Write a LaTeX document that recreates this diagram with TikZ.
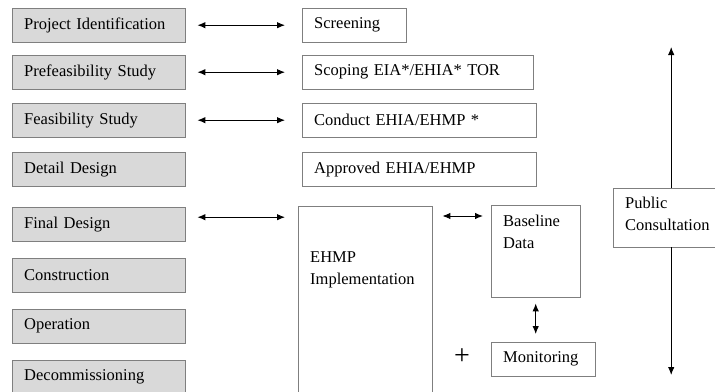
\documentclass[tikz,border=0pt]{standalone}
\usepackage{fontspec}
\setmainfont{Liberation Serif}
\usetikzlibrary{arrows.meta}

\definecolor{stagegray}{HTML}{D9D9D9}
\definecolor{edgegray}{HTML}{7F7F7F}

\begin{document}
\begin{tikzpicture}[x=1pt, y=-1pt,
  every node/.style={font=\fontsize{16.5}{22}\selectfont},
  stage/.style={draw=edgegray, fill=stagegray, anchor=north west, minimum height=34pt,
    inner xsep=12pt, inner ysep=0pt, text width=149pt, align=left},
  note/.style={draw=edgegray, fill=white, anchor=north west, minimum height=34pt,
    inner xsep=12pt, inner ysep=0pt, text width=#1, align=left},
  frame/.style={draw=edgegray, anchor=north west, inner sep=0pt},
  caption/.style={anchor=north west, inner sep=0pt, align=left},
  link/.style={{Latex[length=8pt,width=6.5pt]}-{Latex[length=8pt,width=6.5pt]}, line width=1pt},
  oneway/.style={-{Latex[length=8pt,width=6.5pt]}, line width=1pt}]
  \useasboundingbox (0,0) rectangle (715,391);

  % project stages
  \node[stage] (ident) at (12,8) {Project Identification};
  \node[stage] (prefeas) at (12,55) {Prefeasibility Study};
  \node[stage] (feas) at (12,103) {Feasibility Study};
  \node[stage] (detail) at (12,152) {Detail Design};
  \node[stage] (final) at (12,207) {Final Design};
  \node[stage] (constr) at (12,258) {Construction};
  \node[stage] (operation) at (12,309) {Operation};
  \node[stage] (decom) at (12,360) {Decommissioning};

  % EHIA steps
  \node[note=80pt] (screen) at (302,8) {Screening};
  \node[note=207pt] (scope) at (302,55) {Scoping EIA*/EHIA* TOR};
  \node[note=210pt] (conduct) at (302,103) {Conduct EHIA/EHMP *};
  \node[note=210pt] (approve) at (302,152) {Approved EHIA/EHMP};

  % implementation
  \node[frame, minimum width=134pt, minimum height=200pt] (ehmp) at (298,206) {};
  \node[caption] (ehmptext) at (310,251) {EHMP\\Implementation};
  \node[frame, minimum width=89pt, minimum height=92pt] (base) at (491,205) {};
  \node[caption] (basetext) at (503,215) {Baseline\\Data};
  \node[note=80pt] (monitor) at (491,342) {Monitoring};
  \node[font=\fontsize{28}{28}\selectfont, inner sep=0pt] (plus) at (462,357) {+};

  % public consultation
  \node[frame, minimum width=116pt, minimum height=59pt] (pub) at (613,188) {};
  \node[caption] (pubtext) at (625,197) {Public\\Consultation};
  \coordinate (pubtop) at (671,47);
  \coordinate (pubend) at (671,375);

  % arrows
  \draw[link, shorten <=12pt, shorten >=17pt] (ident.east) -- (ident.east -| screen.west);
  \draw[link, shorten <=12pt, shorten >=17pt] (prefeas.east) -- (prefeas.east -| scope.west);
  \draw[link, shorten <=12pt, shorten >=17pt] (feas.east) -- (feas.east -| conduct.west);
  \coordinate (finalarr) at ([yshift=7pt]final.east);
  \draw[link, shorten <=12pt, shorten >=13pt] (finalarr) -- (finalarr -| ehmp.west);
  \coordinate (tie) at ([yshift=-10pt]ehmp.north east);
  \draw[link, shorten <=10pt, shorten >=8pt] (tie) -- (tie -| base.west);
  \draw[link, shorten <=6pt, shorten >=8pt] (base.south) -- (base.south |- monitor.north);
  \draw[oneway] (pub.north) -- (pub.north |- pubtop);
  \draw[oneway] (pub.south) -- (pub.south |- pubend);
\end{tikzpicture}
\end{document}
